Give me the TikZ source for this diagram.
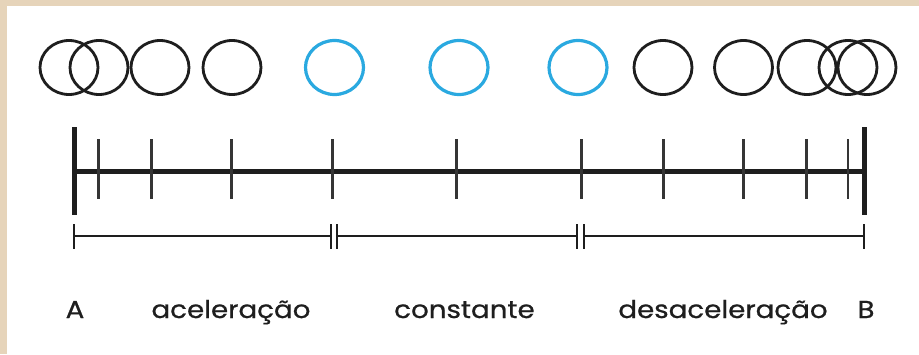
\documentclass[tikz,border=0pt]{standalone}
\usepackage{fontspec}
\setmainfont{Poppins}[FakeBold=0.7]
\definecolor{beige}{HTML}{E6D4BA}
\definecolor{ink}{HTML}{1E1E1E}
\definecolor{cyanb}{HTML}{2AA9E0}
\usetikzlibrary{shapes.geometric}
\begin{document}
\begin{tikzpicture}[x=1pt,y=-1pt,
  ball/.style={draw=ink,line width=2.8pt,ellipse,minimum width=58pt,minimum height=54pt,inner sep=0pt},
  bball/.style={ball,draw=cyanb,line width=3.2pt},
  mainline/.style={draw=ink,line width=5pt},
  endbar/.style={draw=ink,line width=5pt},
  tick/.style={draw=ink!90,line width=2.6pt},
  brline/.style={draw=ink,line width=2pt},
  brtick/.style={draw=ink,line width=2.2pt},
  lbl/.style={text=ink,font=\fontsize{24.5}{27}\selectfont,anchor=base,inner sep=0pt,xscale=1.13}]
\useasboundingbox (0,0) rectangle (919,354);
\fill[beige] (0,0) rectangle (919,354);
\fill[white] (7,6) rectangle (919,354);
% balls
\foreach \n/\x in {1/69,2/99,3/160,4/232,8/663,9/743.5,10/807,11/848,12/867}
  \node[ball] (c\n) at (\x,67.5) {};
\foreach \n/\x in {5/334.5,6/459,7/578}
  \node[bball] (c\n) at (\x,67.5) {};
% main line
\coordinate (A) at (74,171);
\coordinate (B) at (864,171);
\draw[mainline] (A) -- (B);
\draw[endbar] (74,127) -- (74,215);
\draw[endbar] (864,127) -- (864,215);
\foreach \x in {98.3,151.7,231.7,332.3,456.7,581.7,663.3,743.3,806.7,848}
  \draw[tick] (\x,139) -- (\x,199);
% brackets
\coordinate (b0) at (74,236);
\coordinate (b1) at (331,236);
\coordinate (b2) at (337,236);
\coordinate (b3) at (577,236);
\coordinate (b4) at (584,236);
\coordinate (b5) at (864,236);
\draw[brline] (b0) -- (b1);
\draw[brline] (b2) -- (b3);
\draw[brline] (b4) -- (b5);
\foreach \x in {74,331,337,577,584,864}
  \draw[brtick] (\x,224) -- (\x,249);
% labels
\node[lbl] (tA) at (75,318) {A};
\node[lbl] (t1) at (231,318) {aceleração};
\node[lbl] (t2) at (464.5,318) {constante};
\node[lbl] (t3) at (723,318) {desaceleração};
\node[lbl] (tB) at (866,318) {B};
\end{tikzpicture}
\end{document}
